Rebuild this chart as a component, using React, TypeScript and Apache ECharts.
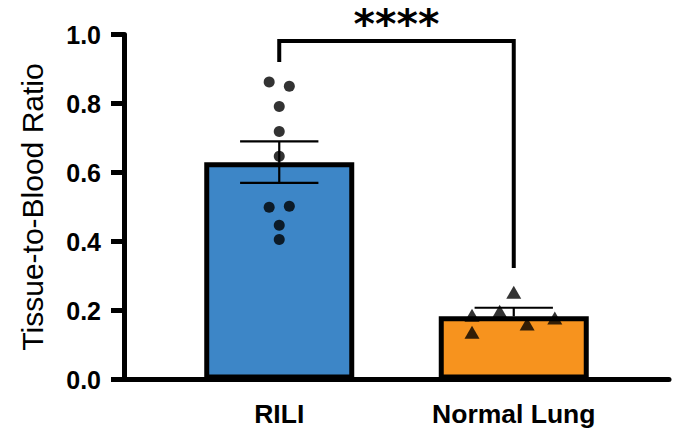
import React, { useEffect, useRef } from "react";
import * as echarts from "echarts";

// ---------- data ----------
const categories = ["RILI", "Normal Lung"];
const categoryPos = [1, 2];
const barMeans = [0.63, 0.183];
const barSems = [0.06, 0.025];
const semBothSides = [1, 0];
const barColors = ["#3D86C7", "#F7931E"];

const riliValues = [0.862, 0.85, 0.791, 0.719, 0.647, 0.499, 0.502, 0.447, 0.406];
const riliJitter = [-0.043, 0.043, 0, 0, 0, -0.043, 0.043, 0, 0];
const normalValues = [0.253, 0.186, 0.198, 0.137, 0.161, 0.178];
const normalJitter = [0, -0.178, -0.06, -0.178, 0.057, 0.175];

const yMin = 0;
const yMax = 1;
const yInterval = 0.2;
const xMin = 0.338;
const xMax = 2.662;

const sigLabel = "****";
const bracketLeftY = 0.92;
const bracketTopY = 0.981;
const bracketRightY = 0.323;
const sigTextY = 1.029;

const yTitle = "Tissue-to-Blood Ratio";

const FONT = "'Liberation Sans', Arial, Helvetica, sans-serif";

export default function App() {
  const ref = useRef<HTMLDivElement>(null);

  useEffect(() => {
    if (!ref.current) return;
    const chart = echarts.init(ref.current, null, { renderer: "svg" });

    const option: any = {
      animation: false,
      backgroundColor: "#ffffff",
      grid: { left: 124, right: 7, top: 34.5, bottom: 55.5, containLabel: false },
      xAxis: {
        type: "value",
        min: xMin,
        max: xMax,
        axisLine: { show: true, lineStyle: { color: "#000", width: 5 } },
        axisTick: { show: false },
        splitLine: { show: false },
        axisLabel: {
          customValues: categoryPos,
          formatter: (v: number) => categories[Math.round(v) - 1] ?? "",
          color: "#000",
          fontFamily: FONT,
          fontWeight: "bold",
          fontSize: 26.5,
          margin: 21,
        },
      },
      yAxis: {
        type: "value",
        min: yMin,
        max: yMax,
        interval: yInterval,
        name: yTitle,
        nameLocation: "middle",
        nameRotate: 90,
        nameGap: 77,
        nameTextStyle: { fontFamily: FONT, fontSize: 30, color: "#000" },
        axisLine: { show: true, lineStyle: { color: "#000", width: 5 } },
        axisTick: { show: true, length: 13, lineStyle: { color: "#000", width: 5 } },
        splitLine: { show: false },
        axisLabel: {
          formatter: (v: number) => v.toFixed(1),
          color: "#000",
          fontFamily: FONT,
          fontWeight: "bold",
          fontSize: 25,
          margin: 23,
        },
      },
      series: [
        {
          type: "bar",
          barWidth: 150,
          data: barMeans.map((m, i) => ({
            value: [categoryPos[i], m],
            itemStyle: { color: barColors[i] },
          })),
          itemStyle: { borderColor: "#000", borderWidth: 5 },
          z: 2,
        },
        {
          type: "custom",
          z: 3,
          clip: false,
          data: barMeans.map((m, i) => [categoryPos[i], m, barSems[i], semBothSides[i]]),
          renderItem: (params: any, api: any) => {
            const x = api.value(0);
            const m = api.value(1);
            const s = api.value(2);
            const both = api.value(3);
            const capHalf = 0.167;
            const top = api.coord([x, m + s]);
            const mid = api.coord([x, m]);
            const bot = api.coord([x, m - s]);
            const capL = api.coord([x - capHalf, m + s]);
            const capR = api.coord([x + capHalf, m + s]);
            const style = { stroke: "#000", lineWidth: 2.2, fill: "none" };
            const children: any[] = [
              { type: "line", shape: { x1: top[0], y1: top[1], x2: mid[0], y2: mid[1] }, style },
              { type: "line", shape: { x1: capL[0], y1: capL[1], x2: capR[0], y2: capR[1] }, style },
            ];
            if (both) {
              const bL = api.coord([x - capHalf, m - s]);
              const bR = api.coord([x + capHalf, m - s]);
              children.push({ type: "line", shape: { x1: mid[0], y1: mid[1], x2: bot[0], y2: bot[1] }, style });
              children.push({ type: "line", shape: { x1: bL[0], y1: bL[1], x2: bR[0], y2: bR[1] }, style });
            }
            return { type: "group", children };
          },
        },
        {
          type: "scatter",
          symbol: "circle",
          symbolSize: 11,
          z: 4,
          itemStyle: { color: "#000" },
          data: riliValues.map((v, i) => [categoryPos[0] + riliJitter[i], v]),
        },
        {
          type: "scatter",
          symbol: "triangle",
          symbolSize: [15, 13],
          z: 4,
          itemStyle: { color: "#000" },
          data: normalValues.map((v, i) => [categoryPos[1] + normalJitter[i], v]),
        },
        {
          type: "custom",
          z: 5,
          clip: false,
          data: [[categoryPos[0], categoryPos[1], bracketLeftY, bracketTopY, bracketRightY, sigTextY]],
          renderItem: (params: any, api: any) => {
            const x1 = api.value(0);
            const x2 = api.value(1);
            const lb = api.coord([x1, api.value(2)]);
            const lt = api.coord([x1, api.value(3)]);
            const rt = api.coord([x2, api.value(3)]);
            const rb = api.coord([x2, api.value(4)]);
            const tp = api.coord([(x1 + x2) / 2, api.value(5)]);
            return {
              type: "group",
              children: [
                {
                  type: "polyline",
                  shape: { points: [lb, lt, rt, rb] },
                  style: { stroke: "#000", lineWidth: 4, fill: "none" },
                },
                {
                  type: "text",
                  style: {
                    text: sigLabel,
                    x: tp[0],
                    y: tp[1],
                    align: "center",
                    verticalAlign: "middle",
                    fontFamily: "'DejaVu Sans', sans-serif",
                    fontWeight: "bold",
                    fontSize: 41,
                    fill: "#000",
                  },
                },
              ],
            };
          },
        },
      ],
    };

    chart.setOption(option);
    return () => chart.dispose();
  }, []);

  return <div ref={ref} style={{ width: 676, height: 435, position: "absolute", left: 0, top: 0 }} />;
}
